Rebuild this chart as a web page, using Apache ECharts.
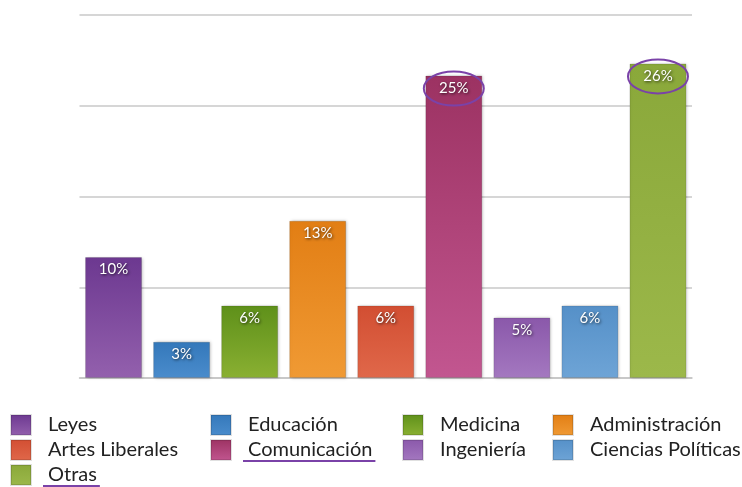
<!DOCTYPE html>
<html>
<head>
<meta charset="utf-8">
<script src="https://cdn.jsdelivr.net/npm/echarts@6/dist/echarts.min.js"></script>
<style>
html,body{margin:0;padding:0;background:#fff;}
#chart{width:742px;height:487px;}
</style>
</head>
<body>
<div id="chart"></div>
<script>
const categories = ['Leyes','Educación','Medicina','Administración','Artes Liberales','Comunicación','Ingeniería','Ciencias Políticas','Otras'];
const values = [10,3,6,13,6,25,5,6,26];
const colorTop = ['#6c3890','#3478ba','#5e901a','#e27e14','#d24e32','#9c3262','#8a58aa','#5590c8','#8aa83a'];
const colorBottom = ['#9360ad','#4a8ccc','#8ab032','#f09a34','#e0684a','#c25690','#a478c0','#6ea4d6','#9cb84a'];
const highlighted = ['Comunicación','Otras'];
const legendColumns = [
  ['Leyes','Artes Liberales','Otras'],
  ['Educación','Comunicación'],
  ['Medicina','Ingeniería'],
  ['Administración','Ciencias Políticas']
];
const legendLeft = [10, 210, 402, 552];
const legendTop = 414;
const legendRowH = 25;

const chart = echarts.init(document.getElementById('chart'));
const font = 'Lato, "Open Sans", sans-serif';
const legendFontSize = 20;
const textIndent = 37;

const series = categories.map((name, i) => ({
  name: name,
  type: 'bar',
  stack: 'all',
  barWidth: 57,
  data: categories.map((c, j) => j === i ? values[i] : null),
  itemStyle: {
    color: new echarts.graphic.LinearGradient(0, 0, 0, 1, [
      {offset: 0, color: colorTop[i]},
      {offset: 1, color: colorBottom[i]}
    ]),
    borderColor: 'rgba(0,0,0,0.12)',
    borderWidth: 1,
    shadowColor: 'rgba(0,0,0,0.25)',
    shadowBlur: 3,
    shadowOffsetX: 1,
    shadowOffsetY: 0
  },
  label: {
    show: true,
    position: 'insideTop',
    distance: 5,
    formatter: p => p.value + '%',
    color: '#ffffff',
    fontFamily: font,
    fontSize: 15,
    textShadowColor: 'rgba(0,0,0,0.75)',
    textShadowBlur: 3,
    textShadowOffsetX: 1,
    textShadowOffsetY: 1
  }
}));

const legends = [];
legendColumns.forEach((col, k) => {
  col.forEach((name, r) => {
    legends.push({
      orient: 'horizontal',
      left: legendLeft[k],
      top: legendTop + r * legendRowH,
      itemWidth: 20,
      itemHeight: 20,
      icon: 'rect',
      padding: 0,
      data: [name],
      selectedMode: false,
      textStyle: {
        fontFamily: font,
        fontSize: legendFontSize,
        color: '#222',
        padding: [0, 0, 0, textIndent - 25]
      }
    });
  });
});

chart.setOption({
  animation: false,
  grid: {left: 79.5, right: 50, top: 15, bottom: 109, containLabel: false},
  xAxis: {
    type: 'category',
    data: categories,
    axisLine: {show: true, lineStyle: {color: '#c4c4c4', width: 1.5}},
    axisTick: {show: false},
    axisLabel: {show: false}
  },
  yAxis: {
    type: 'value',
    min: 0,
    max: 30,
    interval: 7.5,
    axisLabel: {show: false},
    axisLine: {show: false},
    axisTick: {show: false},
    splitLine: {lineStyle: {color: '#c8c8c8', width: 1.5}}
  },
  legend: legends,
  series: series
});

// Annotations: circles around highlighted labels, underlines under highlighted legend items
const graphics = [];
highlighted.forEach(name => {
  const i = categories.indexOf(name);
  const pt = chart.convertToPixel({xAxisIndex: 0, yAxisIndex: 0}, [i, values[i]]);
  graphics.push({
    type: 'ellipse',
    shape: {cx: pt[0], cy: pt[1] + 13, rx: 30, ry: 17},
    style: {fill: 'none', stroke: '#7a42a8', lineWidth: 2},
    z: 100
  });
});
const ctx = document.createElement('canvas').getContext('2d');
ctx.font = legendFontSize + 'px ' + font;
highlighted.forEach(name => {
  legendColumns.forEach((col, k) => {
    const r = col.indexOf(name);
    if (r >= 0) {
      const w = ctx.measureText(name).width;
      const x0 = legendLeft[k] + textIndent - 4;
      const y = legendTop + r * legendRowH + 22;
      graphics.push({
        type: 'line',
        shape: {x1: x0, y1: y, x2: x0 + w + 8, y2: y},
        style: {stroke: '#7a42a8', lineWidth: 2},
        z: 100
      });
    }
  });
});
chart.setOption({graphic: graphics});
</script>
</body>
</html>
